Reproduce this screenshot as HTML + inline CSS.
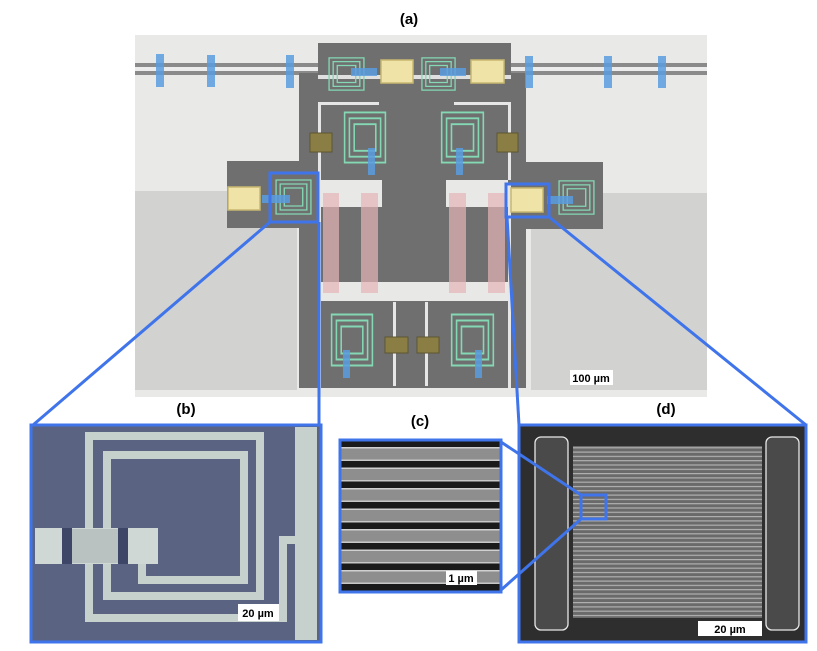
<!DOCTYPE html>
<html><head><meta charset="utf-8"><style>
html,body{margin:0;padding:0;background:#fff;width:817px;height:651px;overflow:hidden}
text{font-family:"Liberation Sans",Arial,sans-serif;font-weight:bold}
</style></head><body>
<svg width="817" height="651" viewBox="0 0 817 651" xmlns="http://www.w3.org/2000/svg">
<defs>
<symbol id="ind" viewBox="0 0 40 40" preserveAspectRatio="none">
<g fill="none" stroke="#84d8b4" stroke-width="1.3">
<path d="M3 3H37V37H3Z"/><path d="M7 7H33V33H7Z"/><path d="M11 11H29V29H11Z"/>
</g>
</symbol>
<pattern id="cl" width="10" height="20.5" patternUnits="userSpaceOnUse" y="447">
<rect width="10" height="20.5" fill="#1a1a1a"/>
<rect y="0" width="10" height="14" fill="#8e8e8e"/>
<rect y="0" width="10" height="1.5" fill="#d0d0d0"/>
<rect y="12.5" width="10" height="1.5" fill="#c8c8c8"/>
</pattern>
<pattern id="dl" width="10" height="4.3" patternUnits="userSpaceOnUse">
<rect width="10" height="4.3" fill="#6a6a6a"/>
<rect width="10" height="1.2" fill="#b0b0b0"/>
</pattern>
</defs>

<rect x="135" y="35" width="572" height="362" fill="#e9e9e7"/>
<rect x="135" y="191" width="162" height="199" fill="#d2d2d1"/>
<rect x="531" y="193" width="176" height="197" fill="#d2d2d1"/>
<rect x="135" y="63" width="572" height="12" fill="#8a8a8a"/>
<rect x="135" y="67" width="572" height="4" fill="#ececec"/>
<rect x="318" y="43" width="193" height="60" fill="#6f6f6f"/>
<rect x="299" y="73" width="227" height="315" fill="#6f6f6f"/>
<rect x="227" y="161" width="88" height="67" fill="#6f6f6f"/>
<rect x="508" y="162" width="95" height="67" fill="#6f6f6f"/>
<rect x="318" y="75" width="193" height="4" fill="#e0e0e0"/>
<rect x="321" y="102" width="58" height="3" fill="#e6e6e6"/>
<rect x="454" y="102" width="56" height="3" fill="#e6e6e6"/>
<rect x="318" y="102" width="3" height="78" fill="#e6e6e6"/>
<rect x="508" y="102" width="3" height="78" fill="#e6e6e6"/>
<rect x="321" y="180" width="61" height="27" fill="#e8e8e6"/>
<rect x="446" y="180" width="62" height="27" fill="#e8e8e6"/>
<rect x="321" y="282" width="187" height="19" fill="#e8e8e6"/>
<rect x="318" y="180" width="3" height="208" fill="#e6e6e6"/>
<rect x="508" y="185" width="3" height="203" fill="#e6e6e6"/>
<rect x="393" y="302" width="3" height="84" fill="#e6e6e6"/>
<rect x="425" y="302" width="3" height="84" fill="#e6e6e6"/>
<g fill="#e6b4b6" opacity="0.7">
<rect x="323" y="193" width="16" height="100"/><rect x="361" y="193" width="17" height="100"/>
<rect x="449" y="193" width="17" height="100"/><rect x="488" y="193" width="17" height="100"/>
</g>
<use href="#ind" x="326" y="55" width="41" height="38"/>
<use href="#ind" x="419" y="55" width="39" height="38"/>
<use href="#ind" x="341" y="108" width="48" height="59"/>
<use href="#ind" x="438" y="108" width="49" height="59"/>
<use href="#ind" x="273" y="177" width="41" height="40"/>
<use href="#ind" x="556" y="178" width="41" height="39"/>
<use href="#ind" x="328" y="310" width="48" height="60"/>
<use href="#ind" x="448" y="310" width="49" height="60"/>
<g fill="#efe3a8" stroke="#c9b870" stroke-width="1.5">
<rect x="381" y="60" width="32" height="23"/><rect x="471" y="60" width="33" height="23"/>
<rect x="228" y="187" width="32" height="23"/><rect x="511" y="188" width="32" height="24"/>
</g>
<g fill="#8a7e45" stroke="#5e5530" stroke-width="1">
<rect x="310" y="133" width="22" height="19"/><rect x="497" y="133" width="21" height="19"/>
<rect x="385" y="337" width="23" height="16"/><rect x="417" y="337" width="22" height="16"/>
</g>
<g fill="#5b9de0" opacity="0.85">
<rect x="156" y="54" width="8" height="33"/><rect x="207" y="55" width="8" height="32"/>
<rect x="286" y="55" width="8" height="33"/><rect x="525" y="56" width="8" height="32"/>
<rect x="604" y="56" width="8" height="32"/><rect x="658" y="56" width="8" height="32"/>
<rect x="351" y="68" width="26" height="8"/><rect x="440" y="68" width="26" height="8"/>
<rect x="368" y="148" width="7" height="27"/><rect x="456" y="148" width="7" height="27"/>
<rect x="262" y="195" width="28" height="8"/><rect x="547" y="196" width="26" height="8"/>
<rect x="343" y="350" width="7" height="28"/><rect x="475" y="350" width="7" height="28"/>
</g>
<rect x="570" y="370" width="43" height="15" fill="#fff"/>
<text x="591" y="382" font-size="11" text-anchor="middle">100 µm</text>

<rect x="31" y="424" width="290" height="219" fill="#5b6383"/>
<rect x="295" y="427" width="22" height="213" fill="#c6d0cc"/>
<polyline points="296,540 283,540 283,618 89,618 89,436 260,436 260,596 107,596 107,455 244,455 244,580 142,580 142,560" fill="none" stroke="#c6d0cc" stroke-width="8"/>
<rect x="35" y="528" width="123" height="36" fill="#cfd8d4"/>
<rect x="62" y="528" width="10" height="36" fill="#3e4668"/>
<rect x="118" y="528" width="10" height="36" fill="#3e4668"/>
<rect x="72" y="529" width="46" height="34" fill="#b9c2c0"/>
<rect x="238" y="604" width="41" height="17" fill="#fff"/>
<text x="258" y="617" font-size="11" text-anchor="middle">20 µm</text>

<rect x="340" y="440" width="161" height="152" fill="url(#cl)"/>
<rect x="446" y="571" width="31" height="14" fill="#fff"/>
<text x="461" y="582" font-size="11" text-anchor="middle">1 µm</text>

<rect x="519" y="424" width="287" height="219" fill="#2e2e2e"/>
<rect x="573" y="446" width="189" height="172" fill="url(#dl)"/>
<rect x="535" y="437" width="33" height="193" rx="6" fill="#4a4a4a" stroke="#e8e8e8" stroke-width="1.3"/>
<rect x="766" y="437" width="33" height="193" rx="6" fill="#4a4a4a" stroke="#e8e8e8" stroke-width="1.3"/>
<rect x="698" y="621" width="64" height="15" fill="#fff"/>
<text x="730" y="633" font-size="11" text-anchor="middle">20 µm</text>

<g fill="none" stroke="#3f74ea" stroke-width="3">
<rect x="270" y="173" width="48" height="49"/>
<rect x="506" y="184" width="43" height="33"/>
<line x1="270" y1="222" x2="33" y2="425"/>
<line x1="319" y1="222" x2="319" y2="425"/>
<line x1="507" y1="217" x2="519" y2="425"/>
<line x1="549" y1="217" x2="806" y2="425"/>
<rect x="31" y="425" width="290" height="217"/>
<rect x="340" y="440" width="161" height="152"/>
<rect x="519" y="425" width="287" height="217"/>
<rect x="581" y="495" width="25" height="24"/>
<line x1="501" y1="442" x2="581" y2="495"/>
<line x1="501" y1="590" x2="581" y2="519"/>
</g>

<text x="409" y="24" font-size="15" text-anchor="middle">(a)</text>
<text x="186" y="414" font-size="15" text-anchor="middle">(b)</text>
<text x="420" y="426" font-size="15" text-anchor="middle">(c)</text>
<text x="666" y="414" font-size="15" text-anchor="middle">(d)</text>
</svg>
</body></html>
